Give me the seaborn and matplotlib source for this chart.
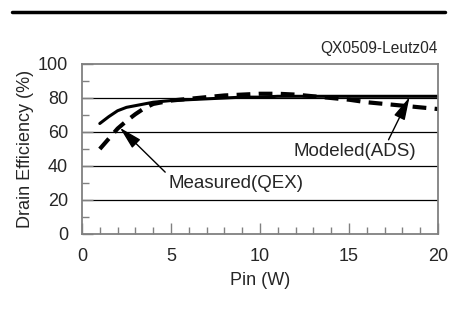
import matplotlib
matplotlib.use("Agg")
import matplotlib.pyplot as plt
import seaborn as sns
import pandas as pd
from matplotlib.ticker import MultipleLocator

pin_w = [1, 1.5, 2, 2.5, 3, 3.5, 4, 5, 6, 7, 8, 9, 10, 11, 12, 13, 14, 15, 16, 17, 18, 19, 20]
measured_qex = [50, 56, 62, 66.5, 70.5, 74, 76.5, 78.5, 79.5, 80.5, 81.5, 82, 82.5, 82.5, 82, 81,
                80, 79, 77.5, 76.5, 75.5, 74.5, 73.5]
modeled_ads = [65, 69, 72.5, 74.5, 75.5, 76.5, 77.5, 78.5, 79, 79.5, 80, 80.5, 80.5, 81, 81, 81,
               81, 81, 81, 81, 81, 81, 81]

df = pd.DataFrame({
    "Pin": pin_w * 2,
    "Eff": measured_qex + modeled_ads,
    "Series": ["Measured(QEX)"] * len(pin_w) + ["Modeled(ADS)"] * len(pin_w),
})

sns.set_theme(style="white")
plt.rcParams["font.family"] = ["Liberation Sans", "DejaVu Sans"]

fig = plt.figure(figsize=(4.49, 3.28), dpi=100)
ax = fig.add_axes([82 / 449, 1 - 234 / 328, (438 - 82) / 449, (234 - 64) / 328])

sns.lineplot(data=df[df.Series == "Modeled(ADS)"], x="Pin", y="Eff", ax=ax,
             color="black", lw=2.2, legend=False)
sns.lineplot(data=df[df.Series == "Measured(QEX)"], x="Pin", y="Eff", ax=ax,
             color="black", lw=3.0, legend=False)
ax.lines[-1].set_dashes([3.3, 2.0])

ax.set_xlim(0, 20)
ax.set_ylim(0, 100)
ax.xaxis.set_major_locator(MultipleLocator(5))
ax.xaxis.set_minor_locator(MultipleLocator(1))
ax.yaxis.set_major_locator(MultipleLocator(20))
ax.yaxis.set_minor_locator(MultipleLocator(10))
ax.tick_params(axis="both", which="major", direction="in", length=8, width=1,
               color="#808080", labelsize=13, pad=10, bottom=True, left=True)
ax.tick_params(axis="both", which="minor", direction="in", length=5, width=1,
               color="#808080", bottom=True, left=True)
for y in [20, 40, 60, 80]:
    ax.axhline(y, color="black", lw=0.9, zorder=0)
for s in ax.spines.values():
    s.set_color("#808080")
    s.set_linewidth(1.3)

ax.set_xlabel("Pin (W)", fontsize=13, labelpad=5)
ax.set_ylabel("Drain Efficiency (%)", fontsize=13, labelpad=3)

arrow = dict(arrowstyle="-|>,head_length=0.7,head_width=0.18", color="black", lw=1,
             mutation_scale=20, shrinkA=0, shrinkB=0)
ax.annotate("Measured(QEX)", xy=(2.13, 62.5), xytext=(8.65, 29.5), fontsize=13.5,
            ha="center", va="center", arrowprops=dict(arrow, relpos=(0.0, 1.0)))
ax.annotate("Modeled(ADS)", xy=(18.4, 80.5), xytext=(15.34, 48.5), fontsize=13.5,
            ha="center", va="center", arrowprops=dict(arrow, relpos=(0.76, 1.0)))

fig.text(438 / 449, 1 - 49 / 328, "QX0509-Leutz04", ha="right", va="center", fontsize=11.2)
fig.add_artist(plt.Line2D([12 / 449, 445 / 449], [1 - 12 / 328, 1 - 12 / 328],
                          color="black", lw=2.5, transform=fig.transFigure))

fig.savefig("out.png", dpi=100)
